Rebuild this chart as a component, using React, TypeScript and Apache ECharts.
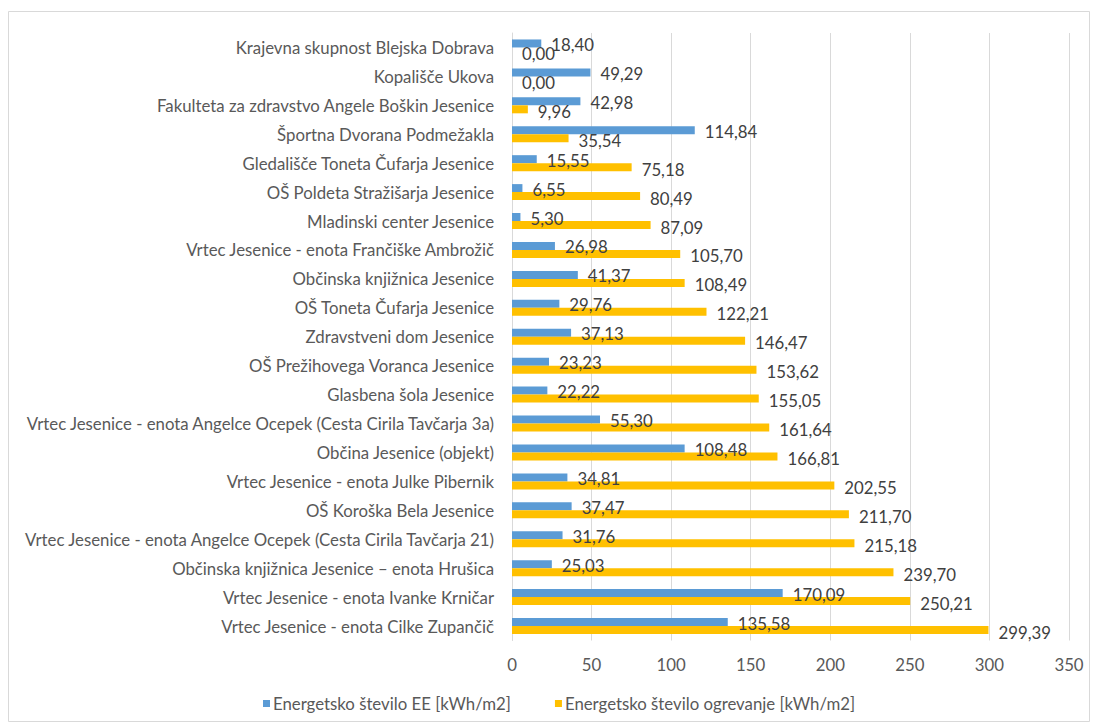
import React, { useEffect, useRef } from "react";
import * as echarts from "echarts";

const categories = [
  "Krajevna skupnost Blejska Dobrava",
  "Kopališče Ukova",
  "Fakulteta za zdravstvo Angele Boškin Jesenice",
  "Športna Dvorana Podmežakla",
  "Gledališče Toneta Čufarja Jesenice",
  "OŠ Poldeta Stražišarja Jesenice",
  "Mladinski center Jesenice",
  "Vrtec Jesenice - enota Frančiške Ambrožič",
  "Občinska knjižnica Jesenice",
  "OŠ Toneta Čufarja Jesenice",
  "Zdravstveni dom Jesenice",
  "OŠ Prežihovega Voranca Jesenice",
  "Glasbena šola Jesenice",
  "Vrtec Jesenice - enota Angelce Ocepek (Cesta Cirila Tavčarja 3a)",
  "Občina Jesenice (objekt)",
  "Vrtec Jesenice - enota Julke Pibernik",
  "OŠ Koroška Bela Jesenice",
  "Vrtec Jesenice - enota Angelce Ocepek (Cesta Cirila Tavčarja 21)",
  "Občinska knjižnica Jesenice – enota Hrušica",
  "Vrtec Jesenice - enota Ivanke Krničar",
  "Vrtec Jesenice - enota Cilke Zupančič",
];

const eeValues = [
  18.4, 49.29, 42.98, 114.84, 15.55, 6.55, 5.3, 26.98, 41.37, 29.76, 37.13,
  23.23, 22.22, 55.3, 108.48, 34.81, 37.47, 31.76, 25.03, 170.09, 135.58,
];

const ogrevanjeValues = [
  0, 0, 9.96, 35.54, 75.18, 80.49, 87.09, 105.7, 108.49, 122.21, 146.47,
  153.62, 155.05, 161.64, 166.81, 202.55, 211.7, 215.18, 239.7, 250.21, 299.39,
];

const seriesNames = [
  "Energetsko število EE [kWh/m2]",
  "Energetsko število ogrevanje [kWh/m2]",
];

const FONT = "Lato";
const TEXT = "#595959";
const FS = 16.8;

export default function App() {
  const ref = useRef<HTMLDivElement>(null);
  useEffect(() => {
    document.body.style.margin = "0";
    if (!ref.current) return;
    const chart = echarts.init(ref.current, null, { renderer: "svg" });
    const fmt = (p: any) => Number(p.value).toFixed(2).replace(".", ",");
    chart.setOption({
      animation: false,
      backgroundColor: "#ffffff",
      textStyle: { fontFamily: FONT },
      graphic: [
        {
          type: "rect",
          shape: { x: 8.5, y: 11.5, width: 1081, height: 710 },
          style: { fill: "none", stroke: "#d9d9d9", lineWidth: 1 },
        },
      ],
      grid: { left: 512, right: 25, top: 33, height: 607.5 },
      legend: {
        left: 258,
        top: 690,
        itemWidth: 7,
        itemHeight: 7,
        itemGap: 44,
        icon: "rect",
        textStyle: { color: TEXT, fontSize: FS, fontFamily: FONT, padding: [0, 0, 0, -2] },
        data: seriesNames,
      },
      xAxis: {
        type: "value",
        min: 0,
        max: 350,
        interval: 50,
        axisLine: { show: false },
        axisTick: { show: false },
        splitLine: { lineStyle: { color: "#d9d9d9", width: 1 } },
        axisLabel: { color: TEXT, fontSize: FS, fontFamily: FONT, margin: 15 },
      },
      yAxis: {
        type: "category",
        inverse: true,
        data: categories,
        axisLine: { show: true, lineStyle: { color: "#d9d9d9" } },
        axisTick: { show: false },
        axisLabel: { color: TEXT, fontSize: FS, fontFamily: FONT, margin: 18 },
      },
      series: [
        {
          name: seriesNames[0],
          type: "bar",
          data: eeValues,
          barWidth: 8,
          barGap: "0%",
          itemStyle: { color: "#5B9BD5" },
          label: {
            show: true,
            position: "right",
            distance: 10,
            formatter: fmt,
            color: "#404040",
            fontSize: FS,
            fontFamily: FONT,
            offset: [0, 1],
          },
        },
        {
          name: seriesNames[1],
          type: "bar",
          data: ogrevanjeValues,
          barWidth: 8,
          barGap: "0%",
          itemStyle: { color: "#FFC000" },
          label: {
            show: true,
            position: "right",
            distance: 10,
            formatter: fmt,
            color: "#404040",
            fontSize: FS,
            fontFamily: FONT,
            offset: [0, 2],
          },
        },
      ],
    });
    return () => chart.dispose();
  }, []);
  return <div ref={ref} style={{ width: 1094, height: 726 }} />;
}
